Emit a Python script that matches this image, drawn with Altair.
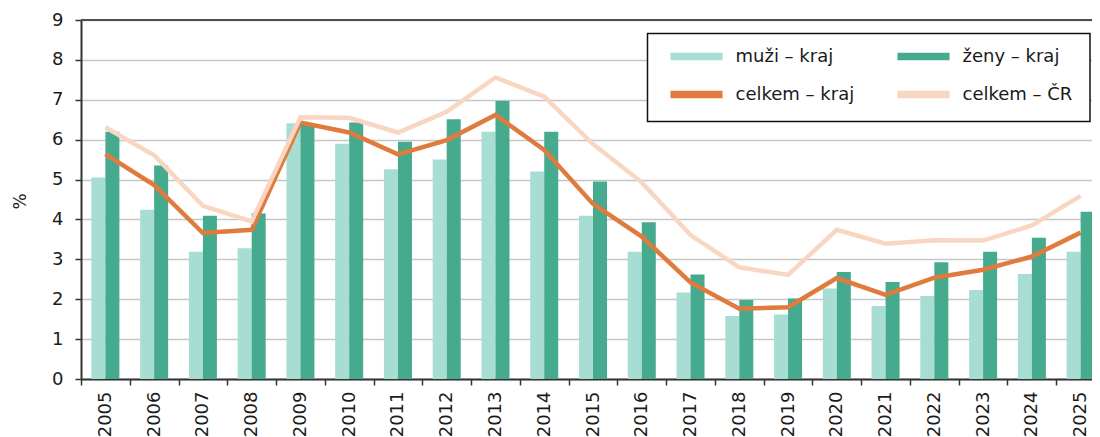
import altair as alt
import pandas as pd

years = [str(y) for y in range(2005, 2026)]
muzi = [5.05, 4.24, 3.19, 3.28, 6.41, 5.90, 5.26, 5.50, 6.20, 5.20, 4.09,
        3.19, 2.17, 1.58, 1.62, 2.27, 1.83, 2.08, 2.23, 2.63, 3.19]
zeny = [6.20, 5.35, 4.09, 4.15, 6.40, 6.43, 5.95, 6.51, 6.97, 6.20, 4.95,
        3.93, 2.62, 1.98, 2.02, 2.68, 2.43, 2.93, 3.19, 3.54, 4.19]
celkem_kraj = [5.64, 4.86, 3.66, 3.74, 6.43, 6.18, 5.63, 5.99, 6.62, 5.74, 4.39,
               3.57, 2.42, 1.76, 1.80, 2.53, 2.11, 2.54, 2.74, 3.07, 3.67]
celkem_cr = [6.31, 5.61, 4.34, 3.95, 6.56, 6.55, 6.18, 6.70, 7.56, 7.08, 5.89,
             4.93, 3.61, 2.80, 2.61, 3.74, 3.39, 3.48, 3.47, 3.85, 4.59]

series = ["muži – kraj", "ženy – kraj", "celkem – kraj", "celkem – ČR"]
colors = ["#a8ddd3", "#45aa8e", "#e07b3e", "#f9d6c2"]

rows = []
for i, yr in enumerate(years):
    rows.append({"rok": yr, "serie": series[0], "hodnota": muzi[i]})
    rows.append({"rok": yr, "serie": series[1], "hodnota": zeny[i]})
    rows.append({"rok": yr, "serie": series[2], "hodnota": celkem_kraj[i]})
    rows.append({"rok": yr, "serie": series[3], "hodnota": celkem_cr[i]})
df = pd.DataFrame(rows)

FONT = "DejaVu Sans"
TXT = "#1a1a1a"

x_scale = alt.Scale(domain=years, range=[0, 1024], paddingInner=0, paddingOuter=0)
y_scale = alt.Scale(domain=[0, 9], nice=False)
color_scale = alt.Scale(domain=series, range=colors)

x_axis = alt.Axis(title=None, labelAngle=270, labelAlign="right", labelBaseline="middle",
                  labelPadding=6, labelFont=FONT, labelFontSize=18, labelColor=TXT,
                  tickBand="extent", tickSize=6, tickColor="#333333", tickWidth=1.5,
                  domainColor="#333333", domainWidth=2, grid=False)
y_axis = alt.Axis(values=list(range(10)), title="%", titleAngle=270, titleX=-61, titleY=181,
                  titleAlign="center", titleBaseline="middle", titleFont=FONT,
                  titleFontSize=17, titleFontWeight="normal", titleColor=TXT,
                  labelFont=FONT, labelFontSize=18, labelColor=TXT, labelPadding=12,
                  tickSize=6, tickColor="#333333", tickWidth=1.5,
                  domainColor="#333333", domainWidth=2,
                  grid=True, gridColor="#c6c6c6", gridWidth=1.5)

legend = alt.Legend(title=None, orient="none", legendX=566.5, legendY=13.5, columns=2,
                    direction="horizontal",
                    symbolType="M0,-0.25H3.47V0.25H0Z", symbolSize=900,
                    symbolStrokeWidth=0, labelOffset=50, columnPadding=28, rowPadding=14,
                    padding=8, labelFont=FONT, labelFontSize=18, labelColor=TXT,
                    labelLimit=300)

base = alt.Chart(df)

bars = base.transform_filter(
    alt.FieldOneOfPredicate(field="serie", oneOf=series[:2])
).mark_bar().encode(
    x=alt.X("rok:N", scale=x_scale, axis=x_axis),
    xOffset=alt.XOffset("serie:N", scale=alt.Scale(domain=series[:2], paddingInner=0, paddingOuter=0.74)),
    y=alt.Y("hodnota:Q", scale=y_scale, axis=y_axis),
    color=alt.Color("serie:N", scale=color_scale, legend=legend),
)

line_kraj = base.transform_filter(
    alt.datum.serie == series[2]
).mark_line(strokeWidth=4.5).encode(
    x=alt.X("rok:N", scale=x_scale, axis=x_axis),
    y=alt.Y("hodnota:Q", scale=y_scale, axis=y_axis),
    color=alt.Color("serie:N", scale=color_scale, legend=legend),
)

line_cr = base.transform_filter(
    alt.datum.serie == series[3]
).mark_line(strokeWidth=4.5).encode(
    x=alt.X("rok:N", scale=x_scale, axis=x_axis),
    y=alt.Y("hodnota:Q", scale=y_scale, axis=y_axis),
    color=alt.Color("serie:N", scale=color_scale, legend=legend),
)

one = alt.Chart(pd.DataFrame({"a": [0]}))
top_rule = one.mark_rule(color="#4d4d4d", strokeWidth=2).encode(
    x=alt.value(0), x2=alt.value(1040), y=alt.value(0)
)
legend_box = one.mark_rect(fill="white", stroke="#111111", strokeWidth=1.5).encode(
    x=alt.value(566.5), x2=alt.value(1009), y=alt.value(13.5), y2=alt.value(101.5)
)

chart = alt.layer(bars, line_kraj, line_cr, top_rule, legend_box).properties(
    width=1011, height=359,
    padding={"left": 73, "top": 12, "right": 0, "bottom": 58},
    autosize=alt.AutoSizeParams(type="none"),
).configure_view(stroke=None).configure(font=FONT)

chart.save("out.html", embed_options={"renderer": "svg", "actions": False})
